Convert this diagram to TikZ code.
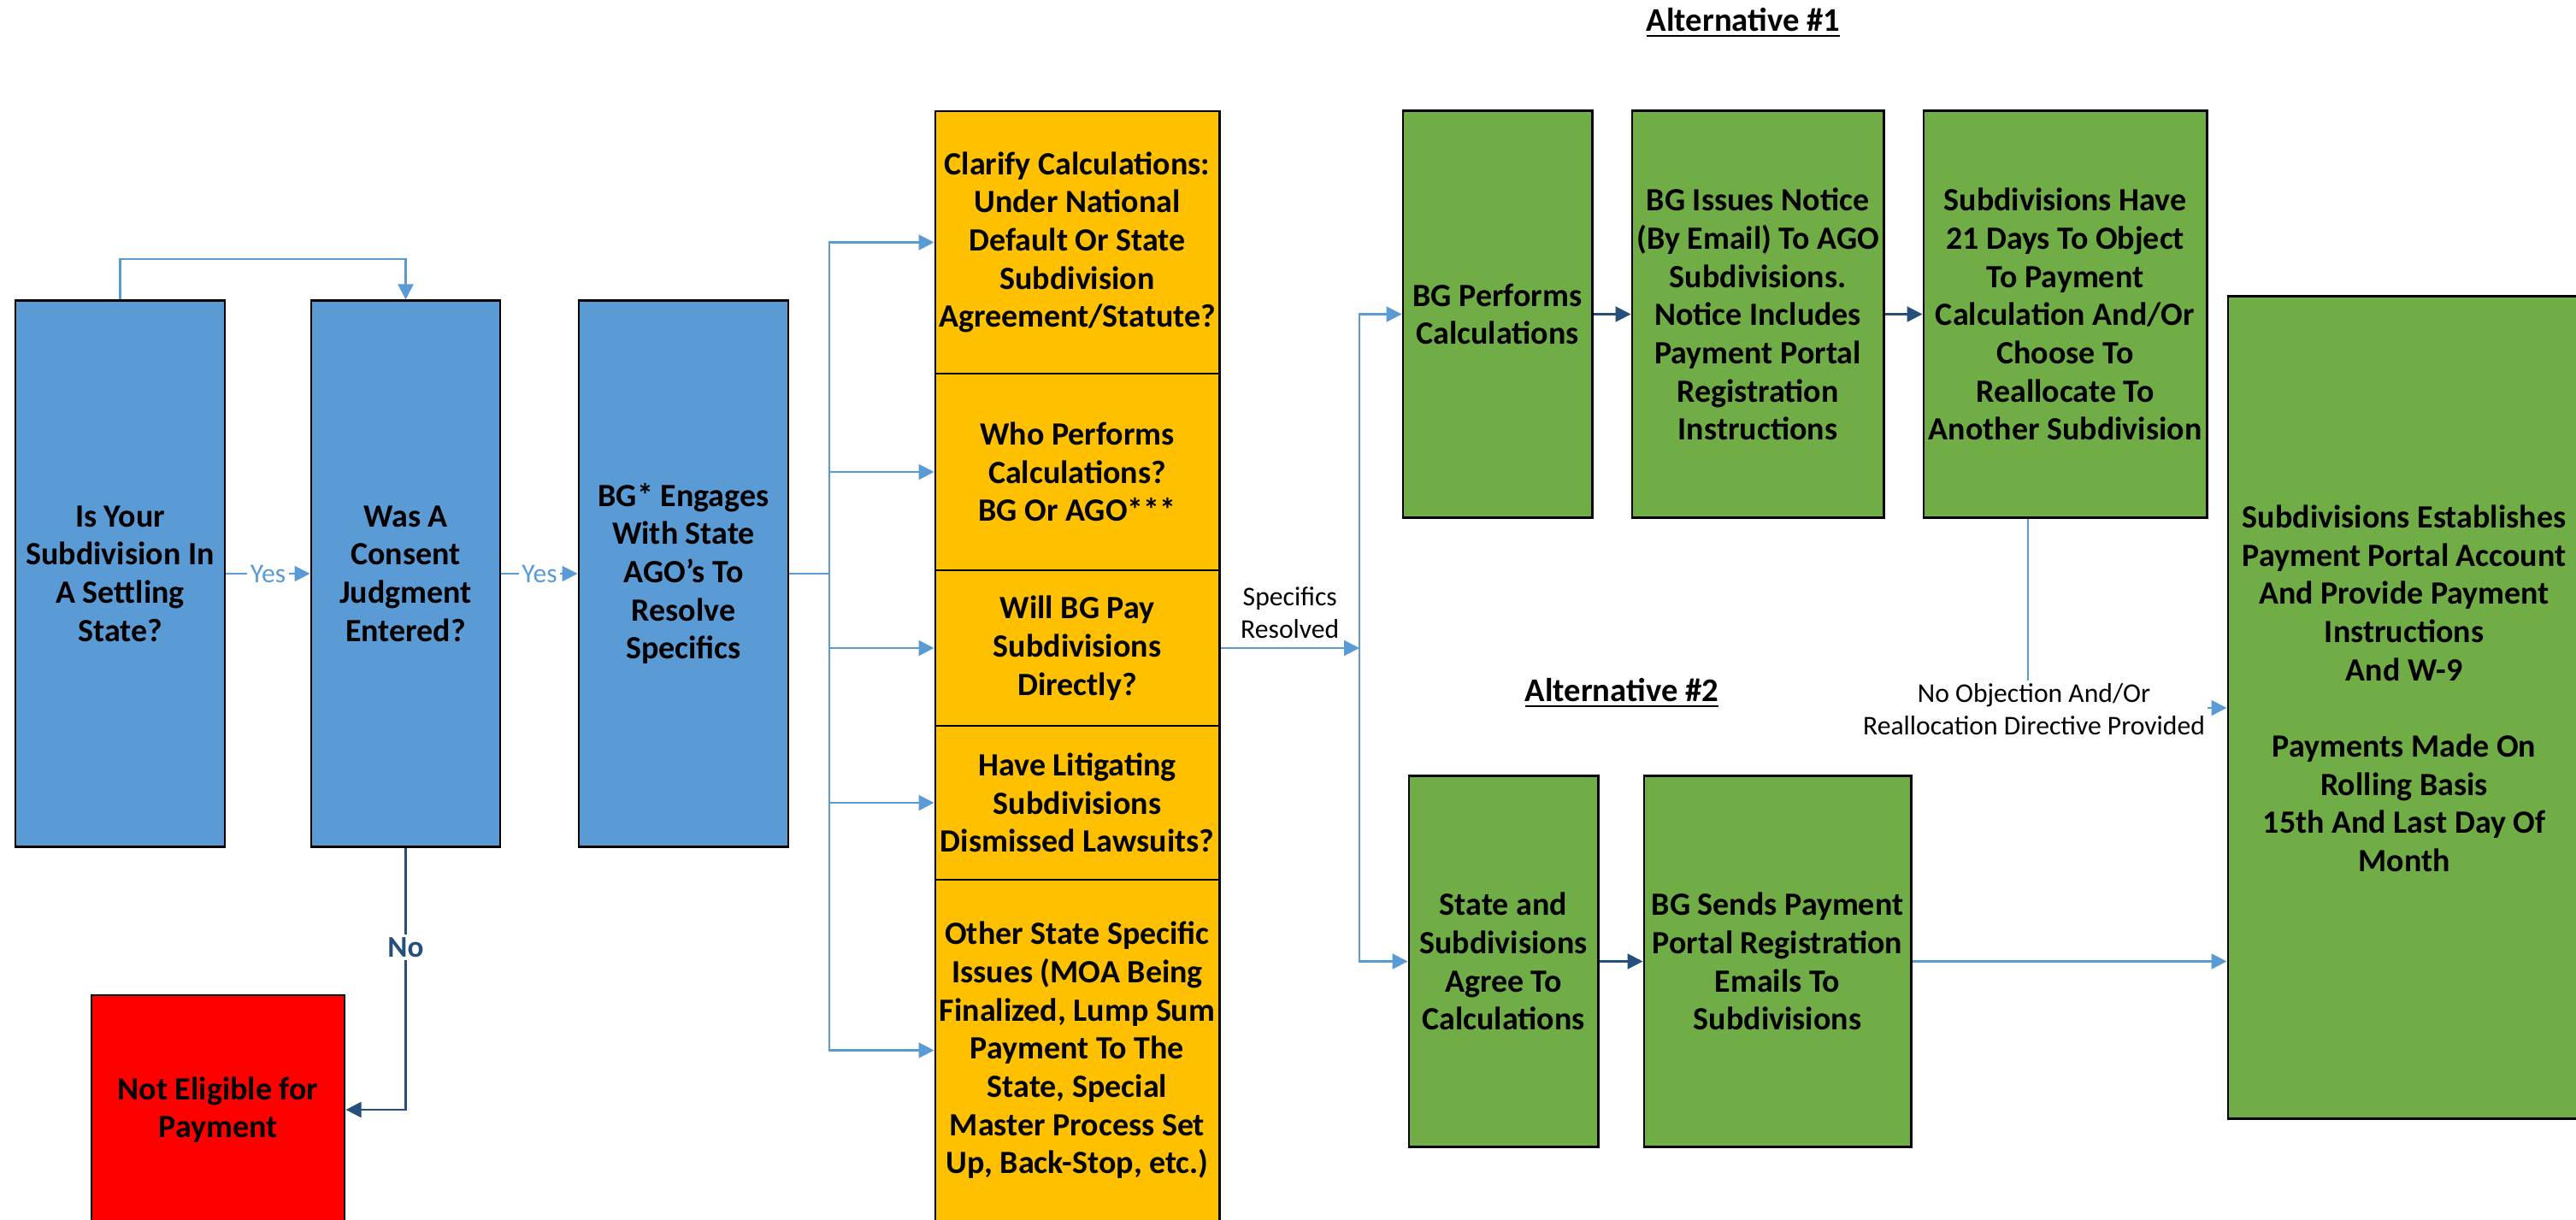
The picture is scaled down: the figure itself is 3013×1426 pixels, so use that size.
\documentclass[tikz,border=0pt]{standalone}
\usepackage{fontspec}
\setmainfont{Carlito}
\usetikzlibrary{arrows.meta, positioning}

\definecolor{stepblue}{HTML}{5B9BD5}
\definecolor{stepgold}{HTML}{FFC000}
\definecolor{stepgreen}{HTML}{70AD47}
\definecolor{stepred}{HTML}{FF0000}
\definecolor{linkdark}{HTML}{25507E}

\begin{document}
\begin{tikzpicture}[
  x=0.01cm, y=-0.01cm,
  box/.style={rectangle, draw=black, line width=0.8pt, align=center, inner sep=1pt, font=\fontsize{10.8}{12.7}\selectfont\bfseries},
  query/.style={box, fill=stepblue, minimum height=6.38cm},
  issue/.style={box, fill=stepgold, minimum width=3.32cm},
  action/.style={box, fill=stepgreen},
  link/.style={-{Triangle[length=1.8mm, width=1.8mm]}, line width=0.6pt, draw=stepblue},
  darklink/.style={link, draw=linkdark},
  tag/.style={fill=white, inner sep=1pt, font=\fontsize{9}{10.8}\selectfont},
  heading/.style={font=\fontsize{11}{13}\selectfont\bfseries}
]
\useasboundingbox (0,0) rectangle (3013,1426);

% Questions
\node[query, minimum width=2.45cm] (q1) at (140.5,671) {Is Your\\Subdivision In\\A Settling\\State?};
\node[query, minimum width=2.21cm] (q2) at (474.5,671) {Was A\\Consent\\Judgment\\Entered?};
\node[query, minimum width=2.45cm] (q3) at (799.5,671) {BG* Engages\\With State\\AGO’s To\\Resolve\\Specifics};
\node[box, fill=stepred, minimum width=2.96cm, minimum height=2.68cm] (stop) at (255,1298) {Not Eligible for\\Payment};

% Specifics to resolve
\node[issue, minimum height=3.07cm] (o1) at (1260,283.5) {Clarify Calculations:\\Under National\\Default Or State\\Subdivision\\Agreement/Statute?};
\node[issue, minimum height=2.30cm] (o2) at (1260,552) {Who Performs\\Calculations?\\BG Or AGO***};
\node[issue, minimum height=1.82cm] (o3) at (1260,758) {Will BG Pay\\Subdivisions\\Directly?};
\node[issue, minimum height=1.80cm] (o4) at (1260,939) {Have Litigating\\Subdivisions\\Dismissed Lawsuits?};
\node[issue, minimum height=3.99cm] (o5) at (1260,1228.5) {Other State Specific\\Issues (MOA Being\\Finalized, Lump Sum\\Payment To The\\State, Special\\Master Process Set\\Up, Back-Stop, etc.)};

% Alternative 1
\node[heading] (alt1) at (2039,27) {\underline{Alternative \#1}};
\node[action, minimum width=2.21cm, minimum height=4.75cm] (a1) at (1751.5,367.5) {BG Performs\\Calculations};
\node[action, minimum width=2.94cm, minimum height=4.75cm] (a2) at (2056,367.5) {BG Issues Notice\\(By Email) To AGO\\Subdivisions.\\Notice Includes\\Payment Portal\\Registration\\Instructions};
\node[action, minimum width=3.31cm, minimum height=4.75cm] (a3) at (2415.5,367.5) {Subdivisions Have\\21 Days To Object\\To Payment\\Calculation And/Or\\Choose To\\Reallocate To\\Another Subdivision};

% Alternative 2
\node[heading] (alt2) at (1897,811) {\underline{Alternative \#2}};
\node[action, minimum width=2.21cm, minimum height=4.33cm] (b1) at (1758.5,1124.5) {State and\\Subdivisions\\Agree To\\Calculations};
\node[action, minimum width=3.12cm, minimum height=4.33cm] (b2) at (2079,1124.5) {BG Sends Payment\\Portal Registration\\Emails To\\Subdivisions};

% Payment
\node[action, minimum width=4.12cm, minimum height=9.61cm] (pay) at (2812,827.5) {Subdivisions Establishes\\Payment Portal Account\\And Provide Payment\\Instructions\\And W-9\\[12.7pt]Payments Made On\\Rolling Basis\\15th And Last Day Of\\Month\\\mbox{}};

\coordinate (fan) at (970,671);
\coordinate (split) at (1590,758);
\coordinate (drop) at (2372,828);

% Edges
\draw[link] (q1.north) -- ++(0,-47) -| (q2.north);
\draw[link] (q1) -- node[tag, text=stepblue] {Yes} (q2);
\draw[link] (q2) -- node[tag, text=stepblue] {Yes} (q3);
\draw[darklink] (q2.south) |- node[pos=0.19, tag, text=linkdark, font=\fontsize{10}{12}\selectfont\bfseries] {No} (stop.east);
\draw[link, -] (q3.east) -- (fan);
\draw[link] (fan) |- (o1.west);
\draw[link] (fan) |- (o2.west);
\draw[link] (fan) |- (o3.west);
\draw[link] (fan) |- (o4.west);
\draw[link] (fan) |- (o5.west);
\draw[link] (o3.east) -- node[above=2pt, tag, fill=none, align=center] {Specifics\\Resolved} (split);
\draw[link] (split) |- (a1.west);
\draw[link] (split) |- (b1.west);
\draw[darklink] (a1) -- (a2);
\draw[darklink] (a2) -- (a3);
\draw[darklink] (b1) -- (b2);
\draw[link] (b2.east) -- (b2.east -| pay.west);
\draw[link] (a3.south -| drop) -- (drop) -- (drop -| pay.west);
\node[tag, align=center] (noobj) at (2379,830) {No Objection And/Or\\Reallocation Directive Provided};

\end{tikzpicture}
\end{document}
